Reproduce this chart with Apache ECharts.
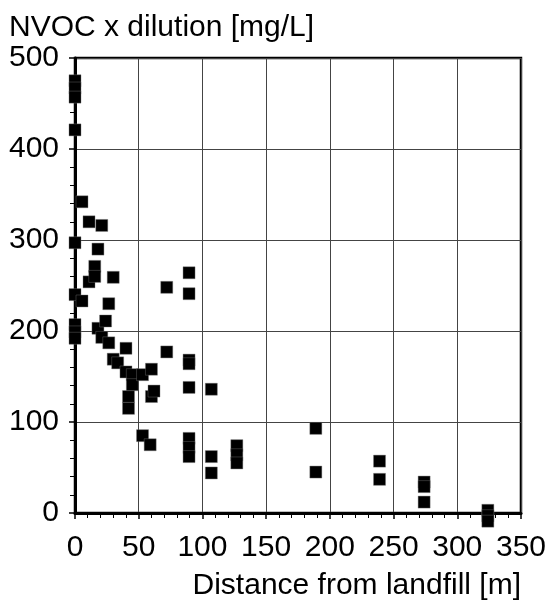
<!DOCTYPE html>
<html>
<head>
<meta charset="utf-8">
<script src="https://cdn.jsdelivr.net/npm/echarts@6/dist/echarts.min.js"></script>
<style>html,body{margin:0;padding:0;background:#fff}#c{width:549px;height:603px}</style>
</head>
<body>
<div id="c"></div>
<script>
var distance = [0,0,0,0,0,0,0,0,0, 5.5,5.5, 11,11, 15.5,15.5, 18,18, 21,21, 24, 26.5,26.5, 30,30, 33.5, 40,40, 42,42, 45,45, 53,53, 59, 60,60, 62, 72,72, 89.5,89.5,89.5,89.5,89.5,89.5,89.5,89.5, 107,107,107, 127,127,127, 189,189, 239,239, 274,274,274, 324,324,324];
var nvoc = [475,467,457,421,297,240,207,199,192, 342,233, 320,254, 271,260, 290,203, 316,193, 211, 230,187, 259,169, 165, 181,155, 128,115, 152,141, 152,85, 75, 158,128, 134, 248,177, 264,241,168,164,138,82,72,62, 136,62,44, 74,64,55, 93,45, 57,37, 34,29,12, 3,-3,-9];
var xTicks = [0,50,100,150,200,250,300,350];
var yTicks = [0,100,200,300,400,500];
var yTitle = 'NVOC x dilution [mg/L]';
var xTitle = 'Distance from landfill [m]';

var pts = distance.map(function(d,i){return [d, nvoc[i]];});
var font = 'Liberation Sans, Arial, sans-serif';
var chart = echarts.init(document.getElementById('c'), null, {renderer:'canvas'});
chart.setOption({
  animation:false,
  backgroundColor:'#fff',
  grid:{left:75,right:25,top:58,bottom:90,show:true,borderColor:'#000',borderWidth:2.5,backgroundColor:'transparent'},
  xAxis:{
    type:'value', min:xTicks[0], max:xTicks[xTicks.length-1], interval:50,
    name:xTitle, nameLocation:'end', nameGap:0,
    nameTextStyle:{fontFamily:font,fontSize:30,color:'#000',align:'right',verticalAlign:'top',padding:[58,0,0,0]},
    axisLine:{show:true,lineStyle:{color:'#000',width:3}},
    axisTick:{show:true,length:6,lineStyle:{color:'#000',width:1.5}},
    minorTick:{show:true,splitNumber:5,length:5,lineStyle:{color:'#000',width:1}},
    axisLabel:{fontFamily:font,fontSize:30,color:'#000',margin:20},
    splitLine:{show:true,lineStyle:{color:'#444',width:1}}
  },
  yAxis:{
    type:'value', min:yTicks[0], max:yTicks[yTicks.length-1], interval:100,
    name:yTitle, nameLocation:'end', nameGap:13,
    nameTextStyle:{fontFamily:font,fontSize:30,color:'#000',align:'left',verticalAlign:'bottom',padding:[0,0,0,-66]},
    axisLine:{show:true,lineStyle:{color:'#000',width:3}},
    axisTick:{show:true,length:6,lineStyle:{color:'#000',width:1.5}},
    minorTick:{show:true,splitNumber:5,length:5,lineStyle:{color:'#000',width:1}},
    axisLabel:{fontFamily:font,fontSize:30,color:'#000',margin:16},
    splitLine:{show:true,lineStyle:{color:'#444',width:1}}
  },
  series:[{
    type:'scatter', symbol:'rect', symbolSize:12, clip:false,
    itemStyle:{color:'#000',borderColor:'#777',borderWidth:0.4,opacity:1},
    data:pts
  }]
});
</script>
</body>
</html>
